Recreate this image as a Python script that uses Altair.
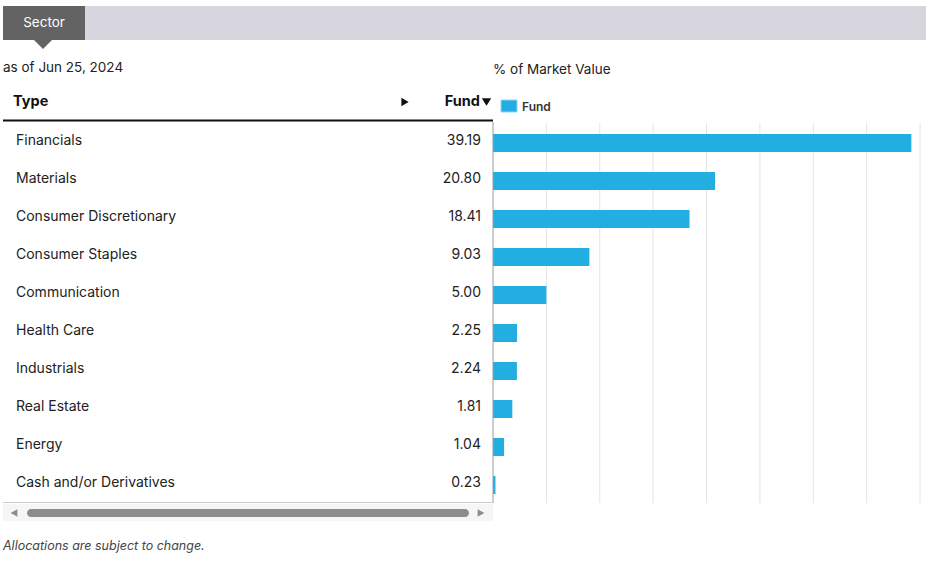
import altair as alt
import pandas as pd

# ---- data ----
types = ["Financials", "Materials", "Consumer Discretionary", "Consumer Staples",
         "Communication", "Health Care", "Industrials", "Real Estate", "Energy",
         "Cash and/or Derivatives"]
fund = [39.19, 20.80, 18.41, 9.03, 5.00, 2.25, 2.24, 1.81, 1.04, 0.23]
grid_ticks = [5, 10, 15, 20, 25, 30, 35, 40]
x_domain = [0, 40]

FONT = "Inter"
BLUE = "#23aee2"
TXT = "#222222"

df = pd.DataFrame({"Type": types, "Fund": fund})
ysc = alt.Scale(domain=types, range=[124, 504], paddingInner=0.526, paddingOuter=0.263)
xsc = alt.Scale(domain=x_domain, range=[493, 920])

def one(t="."):
    return pd.DataFrame({"t": [t]})

# header band
band = alt.Chart(one()).mark_rect(color="#d7d6de").encode(
    x=alt.value(3), x2=alt.value(926), y=alt.value(6), y2=alt.value(40))
tab = alt.Chart(one()).mark_rect(color="#636363").encode(
    x=alt.value(3), x2=alt.value(85), y=alt.value(6), y2=alt.value(40))
pointer = alt.Chart(one()).mark_point(
    shape="M -1 0 L 1 0 L 0 1 Z", filled=True, color="#636363", opacity=1, size=324
).encode(x=alt.value(43), y=alt.value(40))
tab_text = alt.Chart(one("Sector")).mark_text(
    font=FONT, fontSize=13.5, color="white", align="center", baseline="middle"
).encode(x=alt.value(44), y=alt.value(22.5), text="t:N")

asof = alt.Chart(one("as of Jun 25, 2024")).mark_text(
    font=FONT, fontSize=13.5, color=TXT, align="left", baseline="middle"
).encode(x=alt.value(3), y=alt.value(68), text="t:N")
mv = alt.Chart(one("% of Market Value")).mark_text(
    font=FONT, fontSize=13.5, color=TXT, align="left", baseline="middle"
).encode(x=alt.value(493), y=alt.value(70), text="t:N")

# table header
h_type = alt.Chart(one("Type")).mark_text(
    font=FONT, fontSize=14.5, fontWeight="bold", color="#111", align="left", baseline="middle"
).encode(x=alt.value(13), y=alt.value(101.5), text="t:N")
h_arrow = alt.Chart(one()).mark_point(
    shape="triangle-right", filled=True, color="#111", opacity=1, size=70
).encode(x=alt.value(405), y=alt.value(102))
h_fund = alt.Chart(one("Fund")).mark_text(
    font=FONT, fontSize=14.5, fontWeight="bold", color="#111", align="right", baseline="middle"
).encode(x=alt.value(480), y=alt.value(101.5), text="t:N")
h_tri = alt.Chart(one()).mark_point(
    shape="M -1 -0.6 L 1 -0.6 L 0 1 Z", filled=True, color="#111", opacity=1, size=90
).encode(x=alt.value(486.5), y=alt.value(101))
h_line = alt.Chart(one()).mark_rule(color="#111", strokeWidth=2).encode(
    x=alt.value(3), x2=alt.value(493), y=alt.value(120.5))

# legend
leg_sq = alt.Chart(one()).mark_rect(color=BLUE, stroke="#8fd3f0", strokeWidth=1).encode(
    x=alt.value(501), x2=alt.value(517), y=alt.value(100), y2=alt.value(112))
leg_tx = alt.Chart(one("Fund")).mark_text(
    font=FONT, fontSize=12, fontWeight=600, color="#333", align="left", baseline="middle"
).encode(x=alt.value(522), y=alt.value(106.5), text="t:N")

# grid lines and zero line
grid = alt.Chart(pd.DataFrame({"g": grid_ticks})).mark_rule(color="#e4e4e4", strokeWidth=1).encode(
    x=alt.X("g:Q", scale=xsc, axis=None), y=alt.value(123), y2=alt.value(503))
zero = alt.Chart(pd.DataFrame({"g": [0]})).mark_rule(color="#9a9a9a", strokeWidth=1).encode(
    x=alt.X("g:Q", scale=xsc, axis=None), y=alt.value(122), y2=alt.value(503))

bars = alt.Chart(df).mark_bar(color=BLUE).encode(
    x=alt.X("Fund:Q", scale=xsc, axis=None),
    y=alt.Y("Type:N", scale=ysc, axis=None, sort=types))

names = alt.Chart(df).mark_text(
    font=FONT, fontSize=14, color=TXT, align="left", baseline="middle", dy=-2
).encode(x=alt.value(16), y=alt.Y("Type:N", scale=ysc, axis=None, sort=types), text="Type:N")
vals = alt.Chart(df).mark_text(
    font=FONT, fontSize=14, color=TXT, align="right", baseline="middle", dy=-2
).encode(x=alt.value(481), y=alt.Y("Type:N", scale=ysc, axis=None, sort=types),
         text=alt.Text("Fund:Q", format=".2f"))

# bottom line and scrollbar
b_line = alt.Chart(one()).mark_rule(color="#cccccc", strokeWidth=1).encode(
    x=alt.value(3), x2=alt.value(493), y=alt.value(502.5))
track = alt.Chart(one()).mark_rect(color="#f6f6f6").encode(
    x=alt.value(3), x2=alt.value(493), y=alt.value(504), y2=alt.value(521))
thumb = alt.Chart(one()).mark_rect(color="#8c8c8c", cornerRadius=4).encode(
    x=alt.value(27), x2=alt.value(469), y=alt.value(509), y2=alt.value(517))
arr_l = alt.Chart(one()).mark_point(shape="triangle-left", filled=True, color="#8c8c8c",
                                    opacity=1, size=60).encode(x=alt.value(14), y=alt.value(513))
arr_r = alt.Chart(one()).mark_point(shape="triangle-right", filled=True, color="#8c8c8c",
                                    opacity=1, size=60).encode(x=alt.value(481), y=alt.value(513))

note = alt.Chart(one("Allocations are subject to change.")).mark_text(
    font=FONT, fontSize=12.5, fontStyle="italic", color="#444", align="left", baseline="middle"
).encode(x=alt.value(3), y=alt.value(545.5), text="t:N")

chart = alt.layer(
    band, tab, pointer, tab_text, asof, mv, h_type, h_arrow, h_fund, h_tri, h_line,
    leg_sq, leg_tx, grid, bars, zero, names, vals, b_line, track, thumb, arr_l, arr_r, note
).properties(
    width=926, height=565, padding=0, autosize=alt.AutoSizeParams(type="none"),
    background="white"
).configure_view(stroke=None)

chart.save("out.html", embed_options={"renderer": "svg", "actions": False})
